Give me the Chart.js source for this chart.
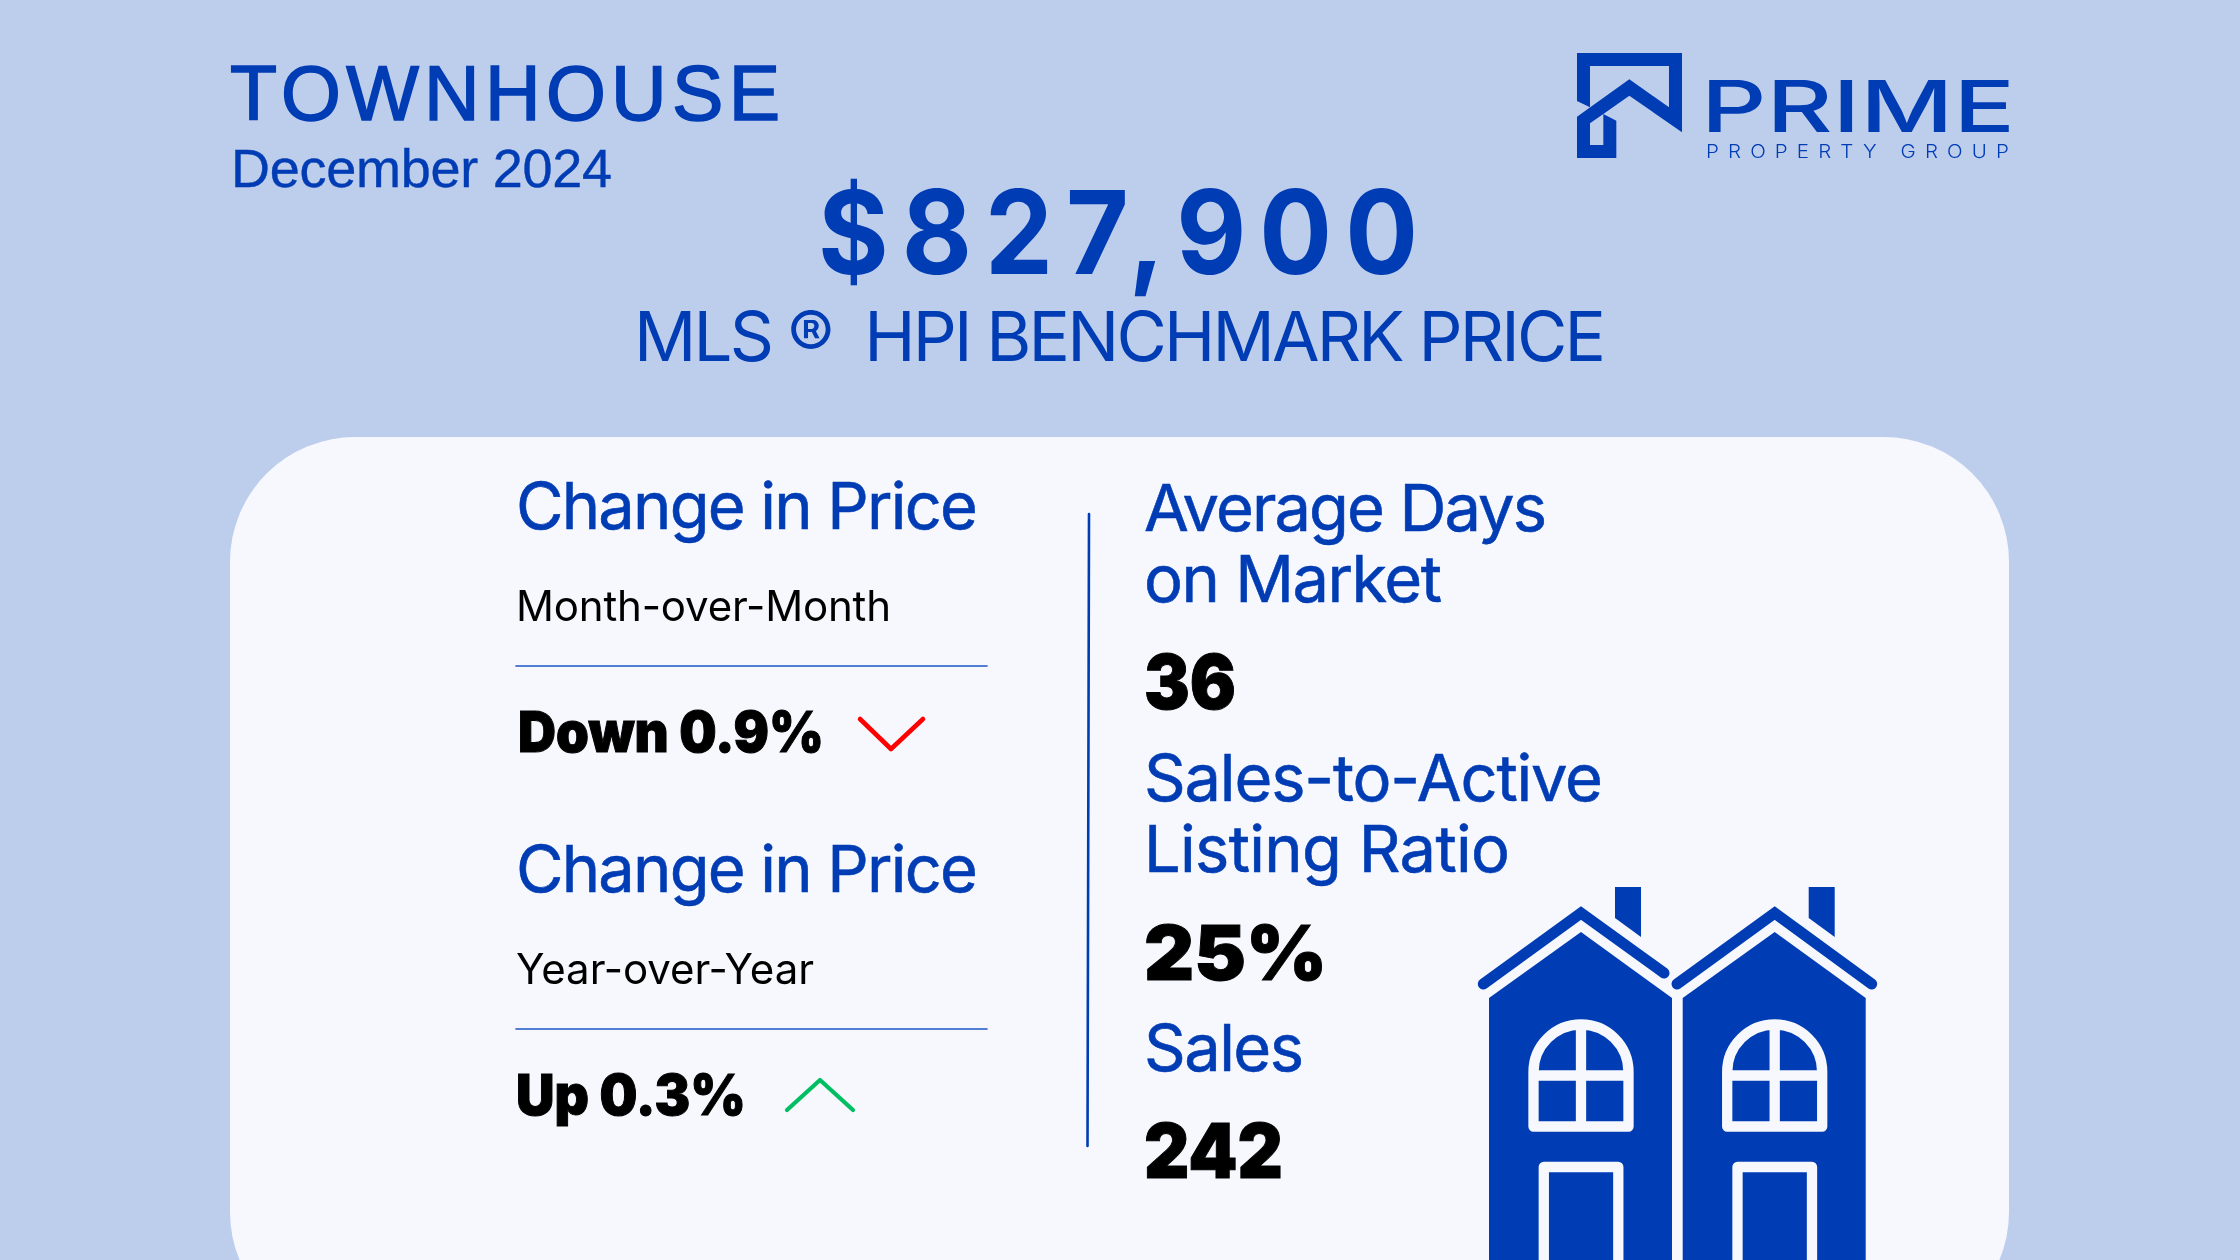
<!DOCTYPE html>
<html>
<head>
<meta charset="utf-8">
<script src="https://cdn.jsdelivr.net/npm/chart.js@4"></script>
<style>
html,body{margin:0;padding:0;width:2240px;height:1260px;overflow:hidden;background:#bdcdec}
#card{position:absolute;left:230px;top:437px;width:1779px;height:900px;background:#f6f8fe;border-radius:125px}
#c,#art{position:absolute;left:0;top:0}
text{white-space:pre;font-family:Inter,"Liberation Sans",sans-serif;fill:#003cb4}
.head{font-family:"Liberation Sans",sans-serif;stroke:#003cb4;stroke-width:1.6}
.sub{font-family:"Liberation Sans",sans-serif;stroke:#003cb4;stroke-width:.4}
.title{stroke:#003cb4;stroke-width:.6}
.dark{fill:#000}
.heavy{fill:#000;stroke:#000;stroke-width:1}
</style>
</head>
<body>
<div id="card"></div>
<canvas id="c" width="2240" height="1260"></canvas>
<svg id="art" width="2240" height="1260" viewBox="0 0 2240 1260" xmlns="http://www.w3.org/2000/svg"></svg>
<script>
// ---------- Values
const propertyType = 'TOWNHOUSE';
const reportMonth = 'December 2024';
const benchmarkPrice = '$827,900';
const benchmarkLabel = 'MLS ®  HPI BENCHMARK PRICE';
const changeTitles = ['Change in Price', 'Change in Price'];
const changePeriods = ['Month-over-Month', 'Year-over-Year'];
const changeValues = ['Down 0.9%', 'Up 0.3%'];
const statTitles = [['Average Days', 'on Market'], ['Sales-to-Active', 'Listing Ratio'], ['Sales']];
const statValues = ['36', '25%', '242'];
const logoName = 'PRIME';
const logoSub = 'PROPERTY GROUP';

const BLUE = '#003cb4';

// ---------- Rules and chevrons, on a page sized scale
function seg(xs, ys, color, width){
  return {data: xs.map((x,i)=>({x, y:ys[i]})), showLine:true, pointRadius:0, borderColor:color, borderWidth:width,
    borderCapStyle:'round', borderJoinStyle:'round', tension:0, fill:false};
}
new Chart(document.getElementById('c').getContext('2d'), {
  type:'scatter',
  data:{datasets:[
    seg([516,987],[666,666],'#1d55c8',1.6),
    seg([516,987],[1029,1029],'#1d55c8',1.6),
    seg([1089,1087.5],[514,1146],BLUE,2.6),
    seg([860,891,923],[719,749,719],'#ff0000',4.6),
    seg([787,820,853],[1110,1080,1110],'#00bf63',4.2)
  ]},
  options:{responsive:false, animation:false, layout:{padding:0},
    plugins:{legend:{display:false}, tooltip:{enabled:false}},
    scales:{x:{type:'linear',min:0,max:2240,display:false}, y:{type:'linear',min:0,max:1260,reverse:true,display:false}}}
});

// ---------- Text
const art = document.getElementById('art');
function label(str, x, y, size, width, weight, cls, adjust, spacing){
  const t = document.createElementNS('http://www.w3.org/2000/svg','text');
  t.textContent = str;
  t.setAttribute('x', x); t.setAttribute('y', y);
  t.setAttribute('font-size', size); t.setAttribute('font-weight', weight||400);
  t.setAttribute('textLength', width); t.setAttribute('lengthAdjust', adjust||'spacing');
  if(spacing) t.setAttribute('letter-spacing', spacing);
  if(cls) t.setAttribute('class', cls);
  art.appendChild(t);
}
const FIT = 'spacingAndGlyphs';
label(propertyType, 230, 120, 77, 550, 400, 'head');
label(reportMonth, 231, 187, 54, 381, 400, 'sub');
label(benchmarkPrice, 818, 274, 116, 613, 700, null, FIT, 14);
label(benchmarkLabel, 634, 361, 69, 972, 400);

label(changeTitles[0], 516, 529, 65, 462, 400, 'title');
label(changePeriods[0], 516, 621, 42, 375, 400, 'dark');
label(changeValues[0], 518, 752, 56, 306, 900, 'heavy', FIT);
label(changeTitles[1], 516, 892, 65, 462, 400, 'title');
label(changePeriods[1], 516, 984, 42, 298, 400, 'dark');
label(changeValues[1], 516, 1115, 56, 230, 900, 'heavy', FIT);

label(statTitles[0][0], 1144, 531, 65, 403, 400, 'title');
label(statTitles[0][1], 1144, 602, 65, 298, 400, 'title');
label(statValues[0], 1144, 709, 76, 92, 900, 'heavy', FIT);
label(statTitles[1][0], 1144, 801, 65, 459, 400, 'title');
label(statTitles[1][1], 1144, 872, 65, 366, 400, 'title');
label(statValues[1], 1144, 980, 76, 183, 900, 'heavy', FIT);
label(statTitles[2][0], 1144, 1071, 65, 160, 400, 'title');
label(statValues[2], 1144, 1178, 76, 139, 900, 'heavy', FIT);

label(logoName, 1701, 132, 72, 314, 500, null, FIT);
label(logoSub, 1706, 158, 18, 312, 300, null, FIT, 8);

// ---------- Logo mark and house artwork
const roof = (end) => `<path d="M1483.3 984L1581 913L${end}" fill="none" stroke="${BLUE}" stroke-width="11" stroke-linecap="round" stroke-linejoin="miter"/>`;
const houseBody = `
  <path d="M1489 998L1581 932L1672 998V1260H1489Z" fill="${BLUE}"/>
  <path d="M1615 887H1641V937L1615 918Z" fill="${BLUE}"/>
  <g fill="none" stroke="#f6f8fe" stroke-width="10.3" stroke-linejoin="round">
    <path d="M1533.5 1126.5V1072A47.5 47.5 0 0 1 1628.5 1072V1126.5Z"/>
    <path d="M1581 1024V1126M1533 1075.5H1628"/>
    <path d="M1543.8 1280V1167H1618.3V1280"/>
  </g>`;
const logoMark = `<path transform="translate(1540 30) scale(.3333)" fill-rule="evenodd" fill="${BLUE}"
  d="M111 69H426V307L268 197L190 252L229 272V384H111V260L268 148L387 232V108H150V232L111 213ZM150 280L190 252V345H150Z"/>`;
art.insertAdjacentHTML('beforeend', logoMark + houseBody + roof('1664 973')
  + `<g transform="translate(193.7 0)">${houseBody}${roof('1678 984')}</g>`);
</script>
</body>
</html>
